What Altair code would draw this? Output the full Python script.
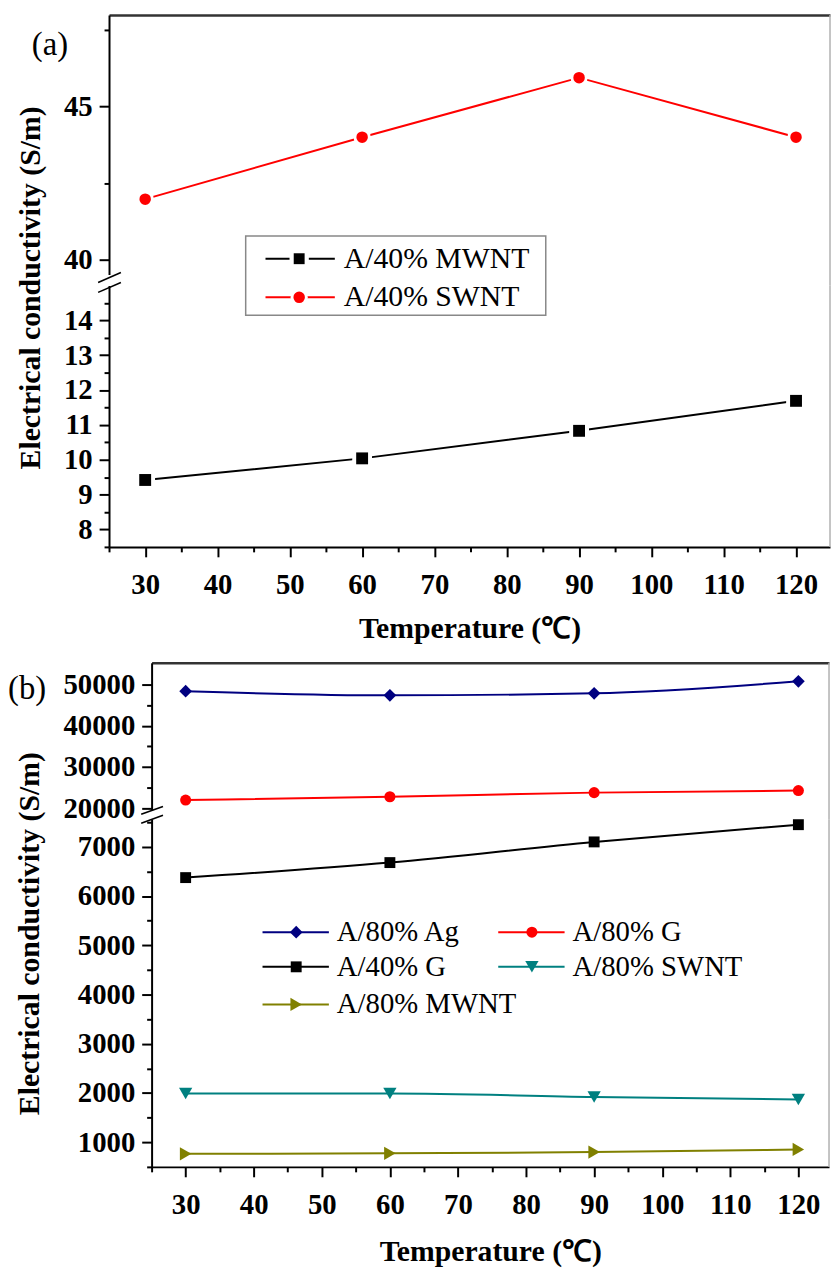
import altair as alt
import pandas as pd

# ---------------- data ----------------
temps = [30, 60, 90, 120]
# panel (a)
a_mwnt = [9.42, 10.04, 10.83, 11.69]
a_swnt = [41.97, 44.0, 45.95, 44.0]
# panel (b)
b_ag = [48400, 47400, 47900, 50800]
b_g80 = [22000, 22800, 23800, 24300]
b_g40 = [6375, 6680, 7100, 7450]
b_swnt = [1990, 1990, 1920, 1870]
b_mwnt = [765, 775, 800, 855]

legend_a = ["A/40% MWNT", "A/40% SWNT"]
legend_b = ["A/80% Ag", "A/80% G", "A/40% G", "A/80% SWNT", "A/80% MWNT"]

x_ticks = [25, 30, 35, 40, 45, 50, 55, 60, 65, 70, 75, 80, 85, 90, 95, 100, 105, 110, 115, 120]
a_up_ticks = [40, 42.5, 45, 47.5]
a_lo_ticks = [7.5, 8, 8.5, 9, 9.5, 10, 10.5, 11, 11.5, 12, 12.5, 13, 13.5, 14, 14.5]
b_up_ticks = [20000, 25000, 30000, 35000, 40000, 45000, 50000]
b_lo_ticks = [500, 1000, 1500, 2000, 2500, 3000, 3500, 4000, 4500, 5000, 5500, 6000, 6500, 7000, 7500]

x_title = "Temperature (℃)"
y_title = "Electrical conductivity (S/m)"

FONT = "Liberation Serif"

# ---------------- layout ----------------
W_A, XDOM_A = 728, [25, 124.7]
H_AU, YDOM_AU = 262, [39.5, 48]
H_AL, YDOM_AL = 264, [7.5, 15]
SP_A = 11

W_B, XDOM_B = 684, [25, 124.5]
H_BU, YDOM_BU = 149, [19500, 55300]
H_BL, YDOM_BL = 351, [500, 7560]
SP_B = 9

SHIFT_B = 43

dummy = pd.DataFrame({"d": [0]})


def x_enc(dom, top, title_pad=14):
    if top:
        axis = alt.Axis(orient="top", labels=False, ticks=False, title=None,
                        domainColor="#333333", domainWidth=2.5, minExtent=0)
    else:
        axis = alt.Axis(values=x_ticks, labelOverlap=False,
                        labelExpr="datum.value % 10 === 0 ? '' + datum.value : ''",
                        tickSize={"condition": {"test": "datum.value % 10 === 0", "value": 10}, "value": 5},
                        title=x_title, labelPadding=14, titlePadding=title_pad)
    return alt.X("t:Q", scale=alt.Scale(domain=dom, nice=False, zero=False), axis=axis)


def y_enc(dom, ticks, major, title=None, tx=None, ty=None):
    kw = dict(values=ticks, labelOverlap=False,
              labelExpr="datum.value %% %s === 0 ? '' + datum.value : ''" % major,
              tickSize={"condition": {"test": "datum.value %% %s === 0" % major, "value": 10}, "value": 5},
              labelPadding=7)
    if title:
        kw.update(title=title, titleX=tx, titleY=ty)
    else:
        kw["title"] = None
    return alt.Y("v:Q", scale=alt.Scale(domain=dom, nice=False, zero=False), axis=alt.Axis(**kw))


def series(vals, color, shape, size, X, Y, interp="linear", halo=None):
    df = pd.DataFrame({"t": temps, "v": vals})
    base = alt.Chart(df).encode(x=X, y=Y)
    out = [base.mark_line(color=color, strokeWidth=2, interpolate=interp)]
    if halo:
        out.append(base.mark_point(shape=shape, size=halo, filled=True, color="white", opacity=1))
    out.append(base.mark_point(shape=shape, size=size, filled=True, color=color, opacity=1))
    return out


def legend_entry(x1, x2, xm, xt, y, color, shape, size, label, halo=None, fs=29):
    d = alt.Chart(dummy)
    out = [d.mark_rule(color=color, strokeWidth=2).encode(
        x=alt.value(x1), x2=alt.value(x2), y=alt.value(y))]
    if halo:
        out.append(d.mark_point(shape=shape, size=halo, filled=True, color="white", opacity=1)
                   .encode(x=alt.value(xm), y=alt.value(y)))
    out.append(d.mark_point(shape=shape, size=size, filled=True, color=color, opacity=1)
               .encode(x=alt.value(xm), y=alt.value(y)))
    out.append(d.mark_text(text=label, align="left", baseline="middle", font=FONT,
                           fontSize=fs, color="black").encode(x=alt.value(xt), y=alt.value(y)))
    return out


def vline(x, y1, y2, color="#b0b0b0", w=1.5):
    return alt.Chart(dummy).mark_rule(color=color, strokeWidth=w).encode(
        x=alt.value(x), y=alt.value(y1), y2=alt.value(y2))


def seg(x1, y1, x2, y2):
    return alt.Chart(dummy).mark_rule(color="black", strokeWidth=1.6).encode(
        x=alt.value(x1), y=alt.value(y1), x2=alt.value(x2), y2=alt.value(y2))


def label(txt, x, y, fs=33):
    return alt.Chart(dummy).mark_text(text=txt, align="left", baseline="middle", font=FONT,
                                      fontSize=fs, color="black").encode(x=alt.value(x), y=alt.value(y))


# ---------------- panel (a) ----------------
XA_top = x_enc(XDOM_A, True)
XA_bot = x_enc(XDOM_A, False)
YA_up = y_enc(YDOM_AU, a_up_ticks, 5)
YA_lo = y_enc(YDOM_AL, a_lo_ticks, 1, title=y_title, tx=-64, ty=2)

ua_layers = series(a_swnt, "#ff0000", "circle", 135, XA_top, YA_up, halo=300)
ua_layers += [
    vline(W_A, 0, H_AU + SP_A),
    seg(-11, 270, 12, 260), seg(-11, 280, 12, 270),
    label("(a)", -78, 30),
    alt.Chart(dummy).mark_rule(opacity=0).encode(x=alt.value(-102), y=alt.value(100), y2=alt.value(101)),
    alt.Chart(dummy).mark_rect(fill="white", stroke="#888888", strokeWidth=1.5).encode(
        x=alt.value(138), x2=alt.value(441), y=alt.value(223), y2=alt.value(303)),
]
ua_layers += legend_entry(158, 228, 192, 237, 246, "black", "square", 121, legend_a[0], halo=380, fs=30)
ua_layers += legend_entry(158, 228, 192, 237, 285, "#ff0000", "circle", 135, legend_a[1], halo=300, fs=30)
UA = alt.layer(*ua_layers).properties(width=W_A, height=H_AU)

la_layers = series(a_mwnt, "black", "square", 144, XA_bot, YA_lo, halo=400)
la_layers += [vline(W_A, 0, H_AL)]
LA = alt.layer(*la_layers).properties(width=W_A, height=H_AL)

panel_a = alt.vconcat(UA, LA, spacing=SP_A, bounds="flush")

# ---------------- panel (b) ----------------
XB_top = x_enc(XDOM_B, True)
XB_bot = x_enc(XDOM_B, False, title_pad=18)
YB_up = y_enc(YDOM_BU, b_up_ticks, 10000)
YB_lo = y_enc(YDOM_BL, b_lo_ticks, 1000, title=y_title, tx=-108, ty=115)

ub_layers = []
ub_layers += series(b_ag, "#000080", "diamond", 165, XB_top, YB_up, interp="monotone")
ub_layers += series(b_g80, "#ff0000", "circle", 125, XB_top, YB_up, interp="monotone")
ub_layers += [
    vline(W_B, 0, H_BU + SP_B),
    seg(-10.5, 153, 11.5, 145), seg(-10.5, 162, 11.5, 154),
    label("(b)", -145, 27),
]
UB = alt.layer(*ub_layers).properties(width=W_B, height=H_BU)

lb_layers = []
lb_layers += series(b_g40, "black", "square", 121, XB_bot, YB_lo, interp="monotone")
lb_layers += series(b_swnt, "#008080", "triangle-down", 180, XB_bot, YB_lo, interp="monotone")
lb_layers += series(b_mwnt, "#808000", "triangle-right", 180, XB_bot, YB_lo, interp="monotone")
lb_layers += [vline(W_B, 0, H_BL)]
lb_layers += legend_entry(112, 179, 146, 187, 114, "#000080", "diamond", 165, legend_b[0])
lb_layers += legend_entry(350, 417, 384, 425, 114, "#ff0000", "circle", 125, legend_b[1])
lb_layers += legend_entry(112, 179, 146, 187, 149, "black", "square", 121, legend_b[2])
lb_layers += legend_entry(350, 417, 384, 425, 149, "#008080", "triangle-down", 180, legend_b[3])
lb_layers += legend_entry(112, 179, 146, 187, 187, "#808000", "triangle-right", 180, legend_b[4])
LB = alt.layer(*lb_layers).properties(width=W_B, height=H_BL)

panel_b = alt.vconcat(UB, LB, spacing=SP_B, bounds="flush")

spacer = alt.Chart(dummy).mark_point(opacity=0).encode(
    x=alt.value(0), y=alt.value(0)).properties(width=SHIFT_B, height=1)
row_b = alt.hconcat(spacer, panel_b, spacing=0, bounds="flush")

chart = alt.vconcat(panel_a, row_b, spacing=17).properties(
    padding={"left": 0, "top": 0, "right": 0, "bottom": 0},
    background="white",
).configure_view(stroke=None).configure_axis(
    labelFont=FONT, labelFontWeight="bold", labelFontSize=29, labelColor="black",
    titleFont=FONT, titleFontWeight="bold", titleFontSize=30, titleColor="black",
    domainColor="black", domainWidth=2, tickColor="black", tickWidth=2, grid=False,
    labelLimit=0,
)

chart.save("out.html", embed_options={"renderer": "svg", "actions": False})
